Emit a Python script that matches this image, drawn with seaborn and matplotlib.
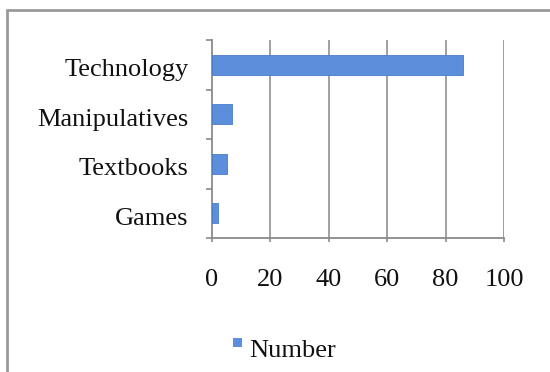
import matplotlib
matplotlib.use("Agg")
import matplotlib.pyplot as plt
import matplotlib.transforms as mtransforms
import seaborn as sns
import pandas as pd
from matplotlib.lines import Line2D
from matplotlib.patches import Rectangle

categories = ["Technology", "Manipulatives", "Textbooks", "Games"]
values = [86, 7, 5, 2]
xticks = [0, 20, 40, 60, 80, 100]
series_name = "Number"

sns.set_theme(style="white")
plt.rcParams['font.family'] = ['Liberation Serif', 'DejaVu Serif']

df = pd.DataFrame({"category": categories, "value": values})

fig = plt.figure(figsize=(5.5, 3.72), dpi=100)
ax = fig.add_axes([212/550, 1-238/372, (504-212)/550, (238-40)/372])

sns.barplot(data=df, y="category", x="value", orient="h", width=0.4,
            color="#5b8fdc", saturation=1, ax=ax, zorder=3)
for p in ax.patches:
    p.set_edgecolor("#4a7cc8")
    p.set_linewidth(0.6)

ax.set_xlim(0, 100)
ax.set_ylim(3.5, -0.5)
ax.set_xticks(xticks)
ax.set_xticklabels([str(t) for t in xticks], fontsize=19, color="#111111")
ax.set_yticks(range(len(categories)))
ax.set_yticklabels(categories, fontsize=19, color="#111111")
ax.set_yticks([-0.5, 0.5, 1.5, 2.5, 3.5], minor=True)
ax.tick_params(axis="y", which="major", left=True, length=0, pad=17)
ax.tick_params(axis="y", which="minor", left=True, length=4, width=1.2, color="#8a8a8a", direction="out")
ax.tick_params(axis="x", which="major", bottom=True, length=3, width=1.2, color="#8a8a8a", direction="out", pad=19)
offset = mtransforms.ScaledTranslation(0, -3/100, fig.dpi_scale_trans)
for lab in ax.get_yticklabels():
    lab.set_transform(lab.get_transform() + offset)
ax.set_xlabel("")
ax.set_ylabel("")
for t in xticks[1:]:
    ax.axvline(t, color="#999999", lw=1.3, zorder=1)
for s in ["top", "right"]:
    ax.spines[s].set_visible(False)
for s in ["left", "bottom"]:
    ax.spines[s].set_color("#8a8a8a")
    ax.spines[s].set_linewidth(1.3)

# outer chart frame (left and top)
fig.add_artist(Line2D([7/550, 7/550], [0, 1-10/372], transform=fig.transFigure,
                      color="#9a9a9a", lw=2))
fig.add_artist(Line2D([7/550, 1], [1-10/372, 1-10/372], transform=fig.transFigure,
                      color="#9a9a9a", lw=2))

# legend
fig.add_artist(Rectangle((233/550, 1-347/372), 9/550, 9/372, transform=fig.transFigure,
                         facecolor="#5b8fdc", edgecolor="none"))
fig.text(249/550, 1-351/372, series_name, fontsize=19, color="#111111",
         va="center", ha="left")

fig.savefig("out.png", dpi=100)
